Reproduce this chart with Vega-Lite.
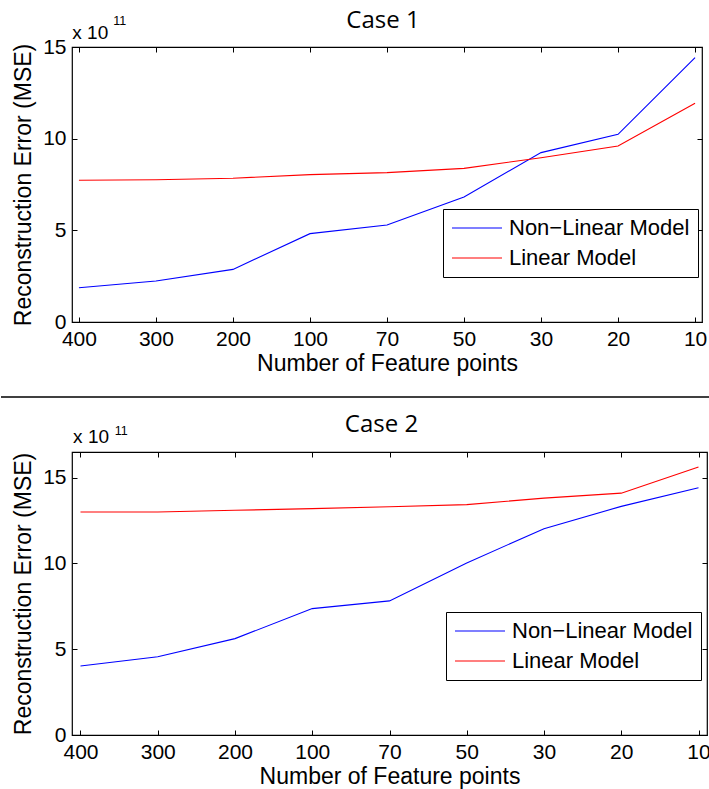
{
  "$schema": "https://vega.github.io/schema/vega-lite/v6.json",
  "padding": {"left": 0, "top": 8, "right": 0, "bottom": 0},
  "background": "#ffffff",
  "spacing": 14,
  "align": "none",
  "bounds": "full",
  "datasets": {
    "case1": [
      {"n": "400", "model": "Non−Linear Model", "mse": 1.87},
      {"n": "300", "model": "Non−Linear Model", "mse": 2.24},
      {"n": "200", "model": "Non−Linear Model", "mse": 2.87},
      {"n": "100", "model": "Non−Linear Model", "mse": 4.82},
      {"n": "70", "model": "Non−Linear Model", "mse": 5.29},
      {"n": "50", "model": "Non−Linear Model", "mse": 6.82},
      {"n": "30", "model": "Non−Linear Model", "mse": 9.24},
      {"n": "20", "model": "Non−Linear Model", "mse": 10.24},
      {"n": "10", "model": "Non−Linear Model", "mse": 14.42},
      {"n": "400", "model": "Linear Model", "mse": 7.73},
      {"n": "300", "model": "Linear Model", "mse": 7.76},
      {"n": "200", "model": "Linear Model", "mse": 7.84},
      {"n": "100", "model": "Linear Model", "mse": 8.04},
      {"n": "70", "model": "Linear Model", "mse": 8.15},
      {"n": "50", "model": "Linear Model", "mse": 8.38},
      {"n": "30", "model": "Linear Model", "mse": 8.96},
      {"n": "20", "model": "Linear Model", "mse": 9.6},
      {"n": "10", "model": "Linear Model", "mse": 11.93}
    ],
    "case2": [
      {"n": "400", "model": "Non−Linear Model", "mse": 4.02},
      {"n": "300", "model": "Non−Linear Model", "mse": 4.56},
      {"n": "200", "model": "Non−Linear Model", "mse": 5.62},
      {"n": "100", "model": "Non−Linear Model", "mse": 7.37},
      {"n": "70", "model": "Non−Linear Model", "mse": 7.82},
      {"n": "50", "model": "Non−Linear Model", "mse": 10.03},
      {"n": "30", "model": "Non−Linear Model", "mse": 12.03},
      {"n": "20", "model": "Non−Linear Model", "mse": 13.33},
      {"n": "10", "model": "Non−Linear Model", "mse": 14.42},
      {"n": "400", "model": "Linear Model", "mse": 13.0},
      {"n": "300", "model": "Linear Model", "mse": 13.0},
      {"n": "200", "model": "Linear Model", "mse": 13.1},
      {"n": "100", "model": "Linear Model", "mse": 13.2},
      {"n": "70", "model": "Linear Model", "mse": 13.31},
      {"n": "50", "model": "Linear Model", "mse": 13.43},
      {"n": "30", "model": "Linear Model", "mse": 13.81},
      {"n": "20", "model": "Linear Model", "mse": 14.1},
      {"n": "10", "model": "Linear Model", "mse": 15.62}
    ]
  },
  "config": {
    "view": {"stroke": "#000000", "strokeWidth": 1.2},
    "axis": {
      "domain": false,
      "grid": false,
      "tickColor": "#000000",
      "tickSize": -5,
      "tickWidth": 1,
      "labelFont": "Liberation Sans",
      "labelFontSize": 21,
      "labelColor": "#000000",
      "titleFont": "Liberation Sans",
      "titleFontSize": 23,
      "titleFontWeight": "normal",
      "titleColor": "#000000"
    },
    "legend": {
      "orient": "none",
      "strokeColor": "#000000",
      "fillColor": "#ffffff",
      "padding": 8,
      "symbolType": "M-2.5,0L2.5,0",
      "symbolSize": 400,
      "symbolOffset": 15,
      "symbolStrokeWidth": 1.2,
      "labelFont": "Liberation Sans",
      "labelFontSize": 22,
      "labelColor": "#000000",
      "labelOffset": 21,
      "labelLimit": 400,
      "rowPadding": 8
    },
    "title": {"font": "Open Sans", "fontSize": 24, "fontWeight": "normal", "color": "#000000", "frame": "group"}
  },
  "resolve": {"scale": {"color": "independent"}, "legend": {"color": "independent"}},
  "vconcat": [
    {
      "width": 630,
      "height": 275,
      "title": {"text": "Case 1", "offset": -18, "dx": -4},
      "data": {"name": "case1"},
      "resolve": {"axis": {"x": "independent", "y": "independent"}},
      "layer": [
        {
          "mark": {"type": "line", "strokeWidth": 1.1},
          "encoding": {
            "x": {"field": "n", "type": "ordinal", "sort": ["400", "300", "200", "100", "70", "50", "30", "20", "10"],
                  "scale": {"type": "point", "padding": 0.09, "domain": ["400", "300", "200", "100", "70", "50", "30", "20", "10"]},
                  "axis": {"orient": "bottom", "labelAngle": 0, "labelPadding": 11, "title": "Number of Feature points", "titlePadding": 3}},
            "y": {"field": "mse", "type": "quantitative", "scale": {"domain": [0, 15], "nice": false},
                  "axis": {"orient": "left", "values": [0, 5, 10, 15], "labelPadding": 11, "title": "Reconstruction Error (MSE)", "titlePadding": 7}},
            "color": {"field": "model", "type": "nominal",
                      "scale": {"domain": ["Non−Linear Model", "Linear Model"], "range": ["#0000ff", "#ff0000"]},
                      "legend": {"title": null, "legendX": 371, "legendY": 162}}
          }
        },
        {
          "mark": {"type": "point", "opacity": 0},
          "encoding": {
            "x": {"field": "n", "type": "ordinal", "sort": ["400", "300", "200", "100", "70", "50", "30", "20", "10"],
                  "axis": {"orient": "top", "labels": false, "title": null}},
            "y": {"field": "mse", "type": "quantitative",
                  "axis": {"orient": "right", "labels": false, "title": null, "values": [0, 5, 10, 15]}}
          }
        },
        {
          "data": {"values": [{"label": "x 10"}]},
          "mark": {"type": "text", "align": "left", "baseline": "alphabetic", "font": "Liberation Sans", "fontSize": 19, "dx": -6.6, "dy": -8, "color": "#000000"},
          "encoding": {
            "x": {"datum": "400", "type": "ordinal", "axis": null},
            "y": {"datum": 15, "type": "quantitative", "axis": null},
            "text": {"field": "label"}
          }
        },
        {
          "data": {"values": [{"label": "11"}]},
          "mark": {"type": "text", "align": "left", "baseline": "alphabetic", "font": "Liberation Sans", "fontSize": 12.5, "dx": 34.4, "dy": -22, "color": "#000000"},
          "encoding": {
            "x": {"datum": "400", "type": "ordinal", "axis": null},
            "y": {"datum": 15, "type": "quantitative", "axis": null},
            "text": {"field": "label"}
          }
        }
      ]
    },
    {
      "width": 638,
      "height": 7,
      "view": {"stroke": null},
      "data": {"values": [{}]},
      "mark": {"type": "rule", "color": "#000000", "strokeWidth": 1.3, "clip": false},
      "encoding": {
        "x": {"datum": 0, "type": "quantitative", "scale": {"domain": [71, 709], "nice": false, "zero": false}, "axis": null},
        "x2": {"datum": 709},
        "y": {"datum": 0, "type": "quantitative", "scale": {"domain": [0, 1], "nice": false}, "axis": null}
      }
    },
    {
      "width": 635,
      "height": 283,
      "title": {"text": "Case 2", "offset": -12, "dx": -8},
      "data": {"name": "case2"},
      "resolve": {"axis": {"x": "independent", "y": "independent"}},
      "layer": [
        {
          "mark": {"type": "line", "strokeWidth": 1.1},
          "encoding": {
            "x": {"field": "n", "type": "ordinal", "sort": ["400", "300", "200", "100", "70", "50", "30", "20", "10"],
                  "scale": {"type": "point", "padding": 0.11, "domain": ["400", "300", "200", "100", "70", "50", "30", "20", "10"]},
                  "axis": {"orient": "bottom", "labelAngle": 0, "labelPadding": 11, "title": "Number of Feature points", "titlePadding": 3}},
            "y": {"field": "mse", "type": "quantitative", "scale": {"domain": [0, 16.5], "nice": false},
                  "axis": {"orient": "left", "values": [0, 5, 10, 15], "labelPadding": 11, "title": "Reconstruction Error (MSE)", "titlePadding": 7}},
            "color": {"field": "model", "type": "nominal",
                      "scale": {"domain": ["Non−Linear Model", "Linear Model"], "range": ["#0000ff", "#ff0000"]},
                      "legend": {"title": null, "legendX": 374, "legendY": 160}}
          }
        },
        {
          "mark": {"type": "point", "opacity": 0},
          "encoding": {
            "x": {"field": "n", "type": "ordinal", "sort": ["400", "300", "200", "100", "70", "50", "30", "20", "10"],
                  "axis": {"orient": "top", "labels": false, "title": null}},
            "y": {"field": "mse", "type": "quantitative",
                  "axis": {"orient": "right", "labels": false, "title": null, "values": [0, 5, 10, 15]}}
          }
        },
        {
          "data": {"values": [{"label": "x 10"}]},
          "mark": {"type": "text", "align": "left", "baseline": "alphabetic", "font": "Liberation Sans", "fontSize": 19, "dx": -7.4, "dy": -9, "color": "#000000"},
          "encoding": {
            "x": {"datum": "400", "type": "ordinal", "axis": null},
            "y": {"datum": 16.5, "type": "quantitative", "axis": null},
            "text": {"field": "label"}
          }
        },
        {
          "data": {"values": [{"label": "11"}]},
          "mark": {"type": "text", "align": "left", "baseline": "alphabetic", "font": "Liberation Sans", "fontSize": 12.5, "dx": 34.3, "dy": -17, "color": "#000000"},
          "encoding": {
            "x": {"datum": "400", "type": "ordinal", "axis": null},
            "y": {"datum": 16.5, "type": "quantitative", "axis": null},
            "text": {"field": "label"}
          }
        }
      ]
    }
  ]
}
